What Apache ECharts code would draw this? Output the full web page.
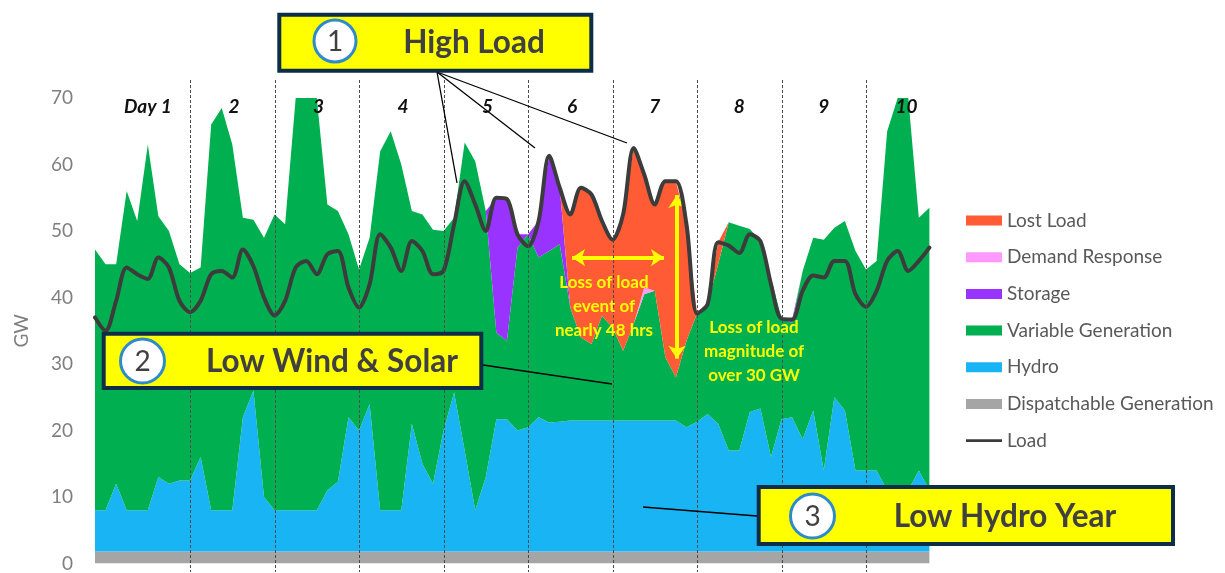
<!DOCTYPE html>
<html>
<head>
<meta charset="utf-8">
<script src="https://cdn.jsdelivr.net/npm/echarts@6/dist/echarts.min.js"></script>
<style>
html,body{margin:0;padding:0;background:#fff;}
#chart{width:1225px;height:573px;}
</style>
</head>
<body>
<div id="chart"></div>
<script>
// hour of each sample (3-hour steps)
const hours = [0,3,6,9,12,15,18,21,24,27,30,33,36,39,42,45,48,51,54,57,60,63,66,69,72,75,78,81,84,87,90,93,96,99,102,105,108,111,114,117,120,123,126,129,132,135,138,141,144,147,150,153,156,159,162,165,168,171,174,177,180,183,186,189,192,195,198,201,204,207,210,213,216,219,222,225,228,231,234,237];

const dispatchable = [
1.8,1.8,1.8,1.8,1.8,1.8,1.8,1.8,1.8,1.8,
1.8,1.8,1.8,1.8,1.8,1.8,1.8,1.8,1.8,1.8,
1.8,1.8,1.8,1.8,1.8,1.8,1.8,1.8,1.8,1.8,
1.8,1.8,1.8,1.8,1.8,1.8,1.8,1.8,1.8,1.8,
1.8,1.8,1.8,1.8,1.8,1.8,1.8,1.8,1.8,1.8,
1.8,1.8,1.8,1.8,1.8,1.8,1.8,1.8,1.8,1.8,
1.8,1.8,1.8,1.8,1.8,1.8,1.8,1.8,1.8,1.8,
1.8,1.8,1.8,1.8,1.8,1.8,1.8,1.8,1.8,1.8];

const hydro = [
6.2,6.2,10.2,6.2,6.2,6.2,11.2,10.2,10.7,10.7,
14.2,6.2,6.2,6.2,20.2,24.2,8.2,6.2,6.2,6.2,
6.2,6.2,9.2,10.5,20.2,18.2,22.2,6.2,6.2,6.2,
19.2,13.2,10.2,18.2,23.9,15.2,6.2,11.2,19.9,19.9,
18.2,18.7,20.2,19.4,19.5,19.7,19.7,19.7,19.7,19.7,
19.7,19.7,19.7,19.7,19.7,19.7,18.7,19.5,20.7,19.2,
15.2,15.2,21.0,21.5,14.2,19.9,20.2,16.9,21.2,12.2,
23.2,21.2,12.2,12.2,12.2,9.2,9.2,9.2,12.2,9.2];

const variableGen = [
39.2,37,33,48,43.5,55,39.2,38,32.5,31.2,
28.5,58,60.5,55,30,25.7,39,44.5,43,62,
62,62,43,40.7,27.5,24.2,25,54,57,52,
32,37.5,38.2,30,26.3,46.3,52.5,40,13,11.8,
27.5,29,24,25.8,26.7,17,12.5,11.5,15.7,14,
10.5,14.5,19,19.5,9.5,6.5,13,16.3,16.5,24,
34.3,33.8,27.5,25.2,27,15.1,14.2,25.3,26,34.7,
25.5,28.5,33,30.2,31.5,54,59,59,38,42.5];

const storage = [
0,0,0,0,0,0,0,0,0,0,
0,0,0,0,0,0,0,0,0,0,
0,0,0,0,0,0,0,0,0,0,
0,0,0,0,0,0,0,0,20.3,21.3,
2,0,5.5,14.3,8.5,0,0,0,0,0,
0,0,0,0,0,0,0,0,0,0,
0,0,0,0,0,0,0.5,0,0,0,
0,0,0,0,0,0,0,0,0,0];

const demandResponse = [
0,0,0,0,0,0,0,0,0,0,
0,0,0,0,0,0,0,0,0,0,
0,0,0,0,0,0,0,0,0,0,
0,0,0,0,0,0,0,0,0,0,
0,0,0,0,0,0,0,0,0,0,
0,0,1,0,0,0,0,0,0,0,
0,0,0,0,0,0,0,0,0,0,
0,0,0,0,0,0,0,0,0,0];

const lostLoad = [
0,0,0,0,0,0,0,0,0,0,
0,0,0,0,0,0,0,0,0,0,
0,0,0,0,0,0,0,0,0,0,
0,0,0,0,0,0,0,0,0,0,
0,0,0,0,0,14,22.5,22.5,14.3,13.2,
20.5,26.5,17,13,26.5,29.5,17.5,0,0,3.3,
0,0,0,0,0,0,0,0,0,0,
0,0,0,0,0,0,0,0,0,0];

const load = [
37,35,39.5,44.5,43.5,42.8,46,44.5,39.5,37.8,
39.5,43.5,44,43,47.2,44.7,40,37.3,39.5,44.5,
45.5,43.5,46.5,47,41.5,38.5,42,49.5,47.5,44,
48.5,47,43.5,44,51,57.5,54,50,55,54.8,
49.5,47.7,51.5,61.3,56.5,52.5,56.5,55.5,51.5,48.7,
52.5,62.5,58.5,54,57.5,57.5,51,37.6,39,48.3,
47.8,46.7,49.5,48.5,42,36.8,36.7,41,43.3,43,
45.5,45.5,40.5,38.6,41,45.5,47,44,45.5,47.5];

const yTicks = [0,10,20,30,40,50,60,70];
const dayLabels = ['Day 1','2','3','4','5','6','7','8','9','10'];
const dayLabelHours = [15,39.5,63.5,87.5,111.5,135.5,159,183,207,230.5];
const dayBoundaryHours = [27,51,75,99,123,147,171,195,219];

const FONT = 'Lato, "Open Sans", sans-serif';

function areaSeries(name, data, color) {
  return {
    name, type: 'line', stack: 'total', data: data,
    xAxisIndex: 0, yAxisIndex: 0,
    symbol: 'none', silent: true,
    lineStyle: { width: 0, color },
    itemStyle: { color },
    areaStyle: { color, opacity: 1 },
    emphasis: { disabled: true }
  };
}

const chart = echarts.init(document.getElementById('chart'), null, { renderer: 'canvas' });

const arrowStyle = { color: '#FFFF00', width: 4, type: 'solid' };
const arrowLines = [
  [{ coord: [135.5, 46], symbol: 'arrow', lineStyle: arrowStyle }, { coord: [161.6, 46], symbol: 'arrow' }],
  [{ coord: [165.3, 55.4], symbol: 'arrow', lineStyle: arrowStyle }, { coord: [165.3, 30.8], symbol: 'arrow' }]
];

const loadIcon = 'path://M0,0 L0.05,0 L0.05,0.05 Z M0,3.6 L36,3.6 L36,6.4 L0,6.4 Z M35.95,9.95 L36,9.95 L36,10 Z';

const option = {
  animation: false,
  backgroundColor: '#ffffff',
  textStyle: { fontFamily: FONT },
  grid: { left: 95, top: 98, width: 834.4, bottom: 8, containLabel: false },
  xAxis: [
    { type: 'category', data: hours, boundaryGap: false, show: false },
    { type: 'value', min: 0, max: 237, show: false, splitLine: { show: false } }
  ],
  yAxis: {
    type: 'value', min: 0, max: 70, interval: 10,
    axisLine: { show: false }, axisTick: { show: false }, splitLine: { show: false },
    axisLabel: { color: '#7F7F7F', fontSize: 19, margin: 22, fontFamily: FONT,
      formatter: v => (yTicks.indexOf(v) >= 0 ? String(v) : '') },
    name: 'GW', nameLocation: 'middle', nameGap: 64,
    nameTextStyle: { color: '#7F7F7F', fontSize: 19, fontFamily: FONT }
  },
  legend: {
    orient: 'vertical', left: 961, top: 206, itemWidth: 36, itemHeight: 10, itemGap: 17.7,
    selectedMode: false,
    textStyle: { color: '#595959', fontSize: 19, fontFamily: FONT },
    data: [
      { name: 'Lost Load', icon: 'rect' },
      { name: 'Demand Response', icon: 'rect' },
      { name: 'Storage', icon: 'rect' },
      { name: 'Variable Generation', icon: 'rect' },
      { name: 'Hydro', icon: 'rect' },
      { name: 'Dispatchable Generation', icon: 'rect' },
      { name: 'Load', icon: loadIcon }
    ]
  },
  series: [
    areaSeries('Dispatchable Generation', dispatchable, '#A5A5A5'),
    areaSeries('Hydro', hydro, '#18B4F4'),
    areaSeries('Variable Generation', variableGen, '#00B050'),
    areaSeries('Storage', storage, '#9933FF'),
    areaSeries('Demand Response', demandResponse, '#FF99FF'),
    areaSeries('Lost Load', lostLoad, '#FF5B35'),
    {
      name: 'Load', type: 'line', xAxisIndex: 1, yAxisIndex: 0,
      data: hours.map((h, i) => [h, load[i]]), symbol: 'none', smooth: 0.3,
      silent: true, z: 5,
      lineStyle: { color: '#3C3C3C', width: 4, cap: 'round' },
      itemStyle: { color: '#3C3C3C' },
      emphasis: { disabled: true },
      markLine: {
        silent: true, symbolSize: [13, 13], label: { show: false },
        data: arrowLines
      },
      markPoint: {
        silent: true, symbol: 'circle', symbolSize: 1,
        itemStyle: { color: 'rgba(0,0,0,0)' },
        label: { show: true, position: 'inside', color: '#111', fontSize: 19,
          fontWeight: 'bold', fontStyle: 'italic', fontFamily: FONT,
          formatter: p => p.name },
        data: dayLabels.map((t, i) => ({ name: t, coord: [dayLabelHours[i], 68.66] }))
      }
    }
  ]
};

chart.setOption(option);

// day boundary lines positioned through the hour axis
const dayLines = dayBoundaryHours.map(h => {
  const x = Math.round(chart.convertToPixel({ xAxisIndex: 1 }, h)) + 0.5;
  return { type: 'line', z: 50, silent: true, shape: { x1: x, y1: 80, x2: x, y2: 572 },
    style: { stroke: '#4a4a4a', lineWidth: 1, lineDash: [3, 2] } };
});

const BOXFONT = 'bold 31.5px ' + FONT;
const annotations = [
  // box 1
  { type: 'line', z: 100, shape: { x1: 437, y1: 72, x2: 457, y2: 183 }, style: { stroke: '#000', lineWidth: 1.3 } },
  { type: 'line', z: 100, shape: { x1: 437, y1: 72, x2: 535, y2: 148 }, style: { stroke: '#000', lineWidth: 1.3 } },
  { type: 'line', z: 100, shape: { x1: 437, y1: 72, x2: 627, y2: 143 }, style: { stroke: '#000', lineWidth: 1.3 } },
  { type: 'rect', z: 101, shape: { x: 279.3, y: 14.7, width: 312, height: 56 }, style: { fill: '#FFFF00', stroke: '#0E2D48', lineWidth: 4 } },
  { type: 'circle', z: 102, shape: { cx: 335, cy: 41, r: 21 }, style: { fill: '#fff', stroke: '#2E8BC9', lineWidth: 3 } },
  { type: 'text', z: 103, x: 335, y: 42, style: { text: '1', fill: '#404040', font: '28px ' + FONT, align: 'center', verticalAlign: 'middle' } },
  { type: 'text', z: 103, x: 474, y: 43, style: { text: 'High Load', fill: '#404040', font: BOXFONT, align: 'center', verticalAlign: 'middle' } },
  // box 2
  { type: 'line', z: 100, shape: { x1: 483, y1: 365, x2: 612, y2: 384 }, style: { stroke: '#000', lineWidth: 1.3 } },
  { type: 'rect', z: 101, shape: { x: 103.7, y: 333.7, width: 377.6, height: 54.3 }, style: { fill: '#FFFF00', stroke: '#0E2D48', lineWidth: 4 } },
  { type: 'circle', z: 102, shape: { cx: 142.5, cy: 361, r: 22 }, style: { fill: '#fff', stroke: '#2E8BC9', lineWidth: 3 } },
  { type: 'text', z: 103, x: 142.5, y: 362, style: { text: '2', fill: '#404040', font: '28px ' + FONT, align: 'center', verticalAlign: 'middle' } },
  { type: 'text', z: 103, x: 332, y: 362, style: { text: 'Low Wind & Solar', fill: '#404040', font: BOXFONT, align: 'center', verticalAlign: 'middle' } },
  // box 3
  { type: 'line', z: 100, shape: { x1: 643, y1: 507, x2: 757, y2: 516 }, style: { stroke: '#000', lineWidth: 1.3 } },
  { type: 'rect', z: 101, shape: { x: 758.7, y: 487, width: 414.3, height: 57 }, style: { fill: '#FFFF00', stroke: '#0E2D48', lineWidth: 4 } },
  { type: 'circle', z: 102, shape: { cx: 812.5, cy: 516, r: 22 }, style: { fill: '#fff', stroke: '#2E8BC9', lineWidth: 3 } },
  { type: 'text', z: 103, x: 812.5, y: 517, style: { text: '3', fill: '#404040', font: '28px ' + FONT, align: 'center', verticalAlign: 'middle' } },
  { type: 'text', z: 103, x: 1005, y: 517, style: { text: 'Low Hydro Year', fill: '#404040', font: BOXFONT, align: 'center', verticalAlign: 'middle' } },
  // yellow notes
  { type: 'text', z: 103, x: 604, y: 307, style: { text: 'Loss of load\nevent of\nnearly 48 hrs', fill: '#FFFF00', font: 'bold 17px ' + FONT, lineHeight: 24, align: 'center', verticalAlign: 'middle' } },
  { type: 'text', z: 103, x: 754, y: 352, style: { text: 'Loss of load\nmagnitude of\nover 30 GW', fill: '#FFFF00', font: 'bold 17px ' + FONT, lineHeight: 24, align: 'center', verticalAlign: 'middle' } }
];

chart.setOption({ graphic: dayLines.concat(annotations) });
</script>
</body>
</html>
